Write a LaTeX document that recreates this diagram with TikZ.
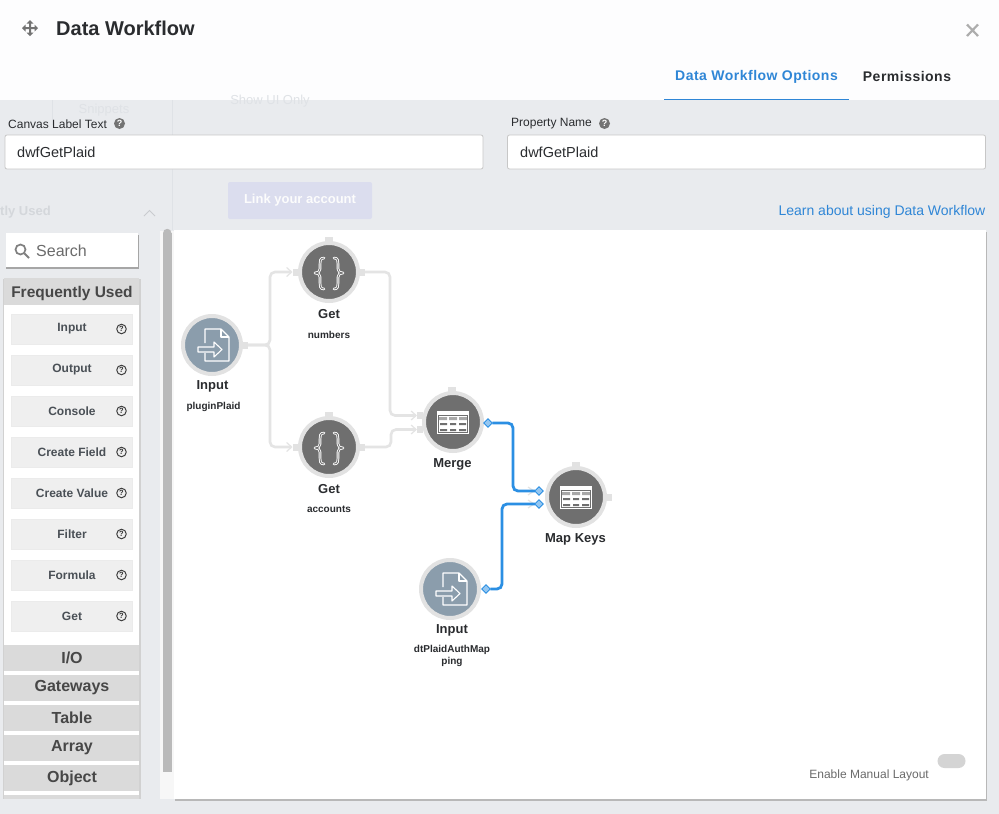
\documentclass[tikz,border=0pt]{standalone}
\usepackage{fontspec}
\setmainfont{Liberation Sans}
\usetikzlibrary{arrows.meta,shapes.geometric,calc}
\definecolor{bgpage}{HTML}{E9EBEE}
\definecolor{headbg}{HTML}{FDFDFE}
\definecolor{bluelink}{HTML}{2F86D6}
\definecolor{wirelight}{HTML}{E4E4E4}
\definecolor{wireblue}{HTML}{2B8FE3}
\definecolor{ringc}{HTML}{E2E2E2}
\definecolor{darknode}{HTML}{6F6F6F}
\definecolor{slatenode}{HTML}{8B9DAC}
\definecolor{inkdark}{HTML}{2A2C2F}
\definecolor{inkgrey}{HTML}{4A5056}
\definecolor{itemfill}{HTML}{EFEFEF}
\definecolor{barfill}{HTML}{DADADA}
\definecolor{faint}{HTML}{DFE2E6}
\newcommand{\fs}[1]{\fontsize{#1}{#1}\selectfont}
\tikzset{
  x=1pt,y=-1pt,
  flowdark/.style={circle,fill=darknode,draw=ringc,line width=4pt,minimum size=58pt,inner sep=0pt,outer sep=0pt},
  flowslate/.style={flowdark,fill=slatenode},
  portbox/.style={rectangle,fill=ringc,minimum width=6pt,minimum height=7pt,inner sep=0pt,outer sep=0pt},
  portdia/.style={diamond,fill=wireblue!50,draw=wireblue,line width=.8pt,minimum width=8.5pt,minimum height=8.5pt,inner sep=0pt,outer sep=0pt},
  wiregrey/.style={draw=wirelight,line width=2.6pt,rounded corners=5pt,-{Straight Barb[length=5pt,width=9pt,line width=1.2pt]}},
  wirebare/.style={draw=wirelight,line width=2.6pt,rounded corners=5pt},
  wireb/.style={draw=wireblue,line width=2.8pt,rounded corners=5pt},
  titlelab/.style={font=\bfseries\fs{13},text=inkdark,inner sep=0pt},
  sublab/.style={font=\bfseries\fs{10},text=inkdark,inner sep=0pt,align=center},
  fieldbox/.style={rectangle,rounded corners=2pt,fill=white,draw=black!22,line width=.8pt,inner sep=0pt,outer sep=0pt},
  fieldtext/.style={font=\fs{14.5},text=inkdark,inner sep=0pt,anchor=west},
  fieldlab/.style={font=\fs{12},text=inkdark,inner sep=0pt,anchor=west},
  helpdot/.style={circle,fill=black!55,minimum size=11pt,inner sep=0pt,text=white,font=\bfseries\fs{9}},
  itembox/.style={rectangle,fill=itemfill,draw=black!8,line width=.5pt,minimum width=121pt,minimum height=30pt,inner sep=0pt},
  itemtext/.style={font=\bfseries\fs{12},text=inkgrey,inner sep=0pt},
  helpq/.style={circle,draw=black!75,line width=1pt,minimum size=9.5pt,inner sep=0pt,text=black!80,font=\bfseries\fs{7.5}},
  barbox/.style={rectangle,fill=barfill,minimum width=135pt,minimum height=26.5pt,inner sep=0pt},
  bartext/.style={font=\bfseries\fs{16},text=black!72,inner sep=0pt},
  docicon/.pic={
    \draw[white,line width=1.1pt,line join=round]
      (-7,-2)--(-7,-16)--(9,-16)--(17,-8)--(17,16)--(-7,16)--(-7,8);
    \draw[white,line width=1.1pt,line join=round] (9,-16)--(9,-8)--(17,-8);
    \draw[white,line width=1.1pt,line join=round]
      (-14,2)--(2,2)--(2,-3)--(10,4.5)--(2,12)--(2,7)--(-14,7)--cycle;
  },
  tableicon/.pic={
    \fill[white] (-16,-11) rectangle (16,12);
    \fill[darknode!60] (-14,-5) rectangle (-6,-2) (-4,-5) rectangle (4,-2) (6,-5) rectangle (14,-2);
    \fill[darknode] (-13,1) rectangle (-6,3) (-3,1) rectangle (3,3) (6,1) rectangle (13,3);
    \fill[darknode] (-13,7) rectangle (-6,9) (-3,7) rectangle (3,9) (6,7) rectangle (13,9);
    \draw[darknode,line width=.5pt] (-14.5,-7) rectangle (14.5,10.5);
  },
  braceicon/.pic={
    \foreach \sx in {1,-1}{
      \begin{scope}[xscale=\sx]
      \draw[white,line width=2.6pt,line cap=round,line join=round]
        (-5,-14) .. controls (-9,-14) and (-9,-11) .. (-9,-8) -- (-9,-3)
        .. controls (-9,0) and (-11,1) .. (-14,1)
        .. controls (-11,1) and (-9,2) .. (-9,5) -- (-9,11)
        .. controls (-9,14) and (-9,17) .. (-5,17);
      \draw[darknode,line width=.8pt,line cap=round,line join=round]
        (-5,-14) .. controls (-9,-14) and (-9,-11) .. (-9,-8) -- (-9,-3)
        .. controls (-9,0) and (-11,1) .. (-14,1)
        .. controls (-11,1) and (-9,2) .. (-9,5) -- (-9,11)
        .. controls (-9,14) and (-9,17) .. (-5,17);
      \end{scope}
    }
  },
}
\begin{document}
\begin{tikzpicture}
\useasboundingbox (0,0) rectangle (999,814);
% page
\fill[bgpage] (0,0) rectangle (999,814);
\fill[headbg] (0,0) rectangle (999,100);
% faint background remains
\draw[faint,line width=.8pt] (52,100)--(52,125) (172,100)--(172,230);
\node[inner sep=0pt,text=faint,font=\fs{13}] (fadesnip) at (104,110) {Snippets};
\node[inner sep=0pt,text=faint,font=\fs{13}] (fadeshow) at (270,101) {Show UI Only};
\node[rectangle,rounded corners=2pt,fill=black!4!blue!6!bgpage,minimum width=144pt,minimum height=37pt,inner sep=0pt,text=white!85!bgpage,font=\bfseries\fs{13}] (fadebtn) at (300,200.5) {Link your account};
\node[inner sep=0pt,text=faint!95!black,font=\bfseries\fs{13},anchor=east] (fadeused) at (51,212) {tly Used};
\draw[faint!90!black,line width=1pt] (144,216)--(149.5,210.5)--(155,216);
% header
\foreach \a in {0,90,180,270}{
  \begin{scope}[shift={(30,28)},rotate=\a]
    \fill[black!55] (-1,0) rectangle (1,-5) (-3.5,-4.5)--(0,-8)--(3.5,-4.5)--cycle;
  \end{scope}
}
\node[inner sep=0pt,anchor=west,font=\bfseries\fs{20},text=inkdark] (title) at (56,28) {Data Workflow};
\draw[black!32,line width=2.2pt] (967,24.5)--(978,36) (978,24.5)--(967,36);
\node[inner sep=0pt,font=\bfseries\fs{14},text=bluelink] (tabopt) at (756.5,76.5) {\addfontfeature{LetterSpace=3.5}Data Workflow Options};
\node[inner sep=0pt,font=\bfseries\fs{14},text=inkdark] (tabperm) at (907,76.5) {\addfontfeature{LetterSpace=3.5}Permissions};
\draw[bluelink,line width=1.6pt] (664,99.5)--(849,99.5);
% fields
\node[fieldlab] (lab1) at (8,124) {Canvas Label Text};
\node[helpdot] (help1) at (119.5,123.5) {?};
\node[fieldbox,minimum width=478pt,minimum height=34pt] (field1) at (244,152) {};
\node[fieldtext] (val1) at (17,152) {dwfGetPlaid};
\node[fieldlab] (lab2) at (511,124) {Property Name};
\node[helpdot] (help2) at (604.5,123.5) {?};
\node[fieldbox,minimum width=478pt,minimum height=34pt] (field2) at (746.5,152) {};
\node[fieldtext] (val2) at (520,152) {dwfGetPlaid};
\node[inner sep=0pt,anchor=east,font=\fs{14},text=bluelink] (learn) at (985.5,212) {Learn about using Data Workflow};
% search
\fill[black!35] (6,235) rectangle (139,268.5);
\node[rectangle,fill=white,minimum width=132pt,minimum height=34pt,inner sep=0pt] (searchbox) at (72,250) {};
\draw[black!50,line width=1.7pt] (20.5,249.5) circle (5);
\draw[black!50,line width=2pt] (24.5,253.5)--(29,258);
\node[inner sep=0pt,anchor=west,font=\fs{16},text=black!58] (searchtxt) at (36,250.5) {Search};
% side panel
\fill[black!18] (3,279) rectangle (140.5,799);
\fill[white] (4,305) rectangle (139,799);
\fill[barfill] (4,278) rectangle (139,305);
\node[bartext,font=\bfseries\fs{15.5}] (frequent) at (72,293) {Frequently Used};
\foreach \nm/\yy/\txt in {a/329/Input,b/370/Output,c/411/Console,d/452/Create Field,e/493/Create Value,f/534/Filter,g/575/Formula,h/616/Get}{
  \node[itembox] (item\nm) at (71.5,\yy) {};
  \node[itemtext] (itxt\nm) at (72,\yy) {\txt};
  \node[helpq] (hq\nm) at (121.5,\yy) {?};
}
\foreach \nm/\yy/\txt in {a/658/I\slash O,b/688/Gateways,c/718/Table,d/748/Array,e/778/Object}{
  \node[barbox] (bar\nm) at (71.5,\yy) {};
  \node[bartext] (btxt\nm) at (72,\yy) {\txt};
}
\fill[barfill] (4,795) rectangle (139,799);
% scrollbar
\fill[black!3] (160,231) rectangle (174,799);
\fill[black!27] (163,233) rectangle (171.5,772);
\fill[black!27] (167.25,233) circle (4.2);
% canvas
\fill[black!28] (175,232) rectangle (987,801);
\fill[white] (174,230) rectangle (985.5,799);
% toggle
\node[inner sep=0pt,anchor=east,font=\fs{12},text=black!58] (manual) at (929,775) {Enable Manual Layout};
\fill[black!17] (944.5,775) ++(0,-7) arc[start angle=90,end angle=270,radius=7] -- ++(14,0) arc[start angle=-90,end angle=90,radius=7] -- cycle;
\fill[white] (945,775) circle (6);
% flow nodes
\node[flowslate] (inplaid) at (212,345) {};
\node[flowdark] (getnum) at (329,272) {};
\node[flowdark] (getacc) at (329,447) {};
\node[flowdark] (merge) at (453,422) {};
\node[flowdark] (mapkeys) at (576,497) {};
\node[flowslate] (inmap) at (450,589) {};
\pic at (inplaid) {docicon};
\pic at (inmap) {docicon};
\pic at (getnum) {braceicon};
\pic at (getacc) {braceicon};
\pic at (merge) {tableicon};
\pic at (mapkeys) {tableicon};
% ports
\node[portbox] (pplaidout) at (245,345) {};
\node[portbox] (pnumin) at (295.5,272) {};
\node[portbox] (pnumout) at (362,272) {};
\node[portbox,minimum width=8pt,minimum height=6pt] (pnumtop) at (329,240) {};
\node[portbox] (paccin) at (295.5,447) {};
\node[portbox] (paccout) at (362,447) {};
\node[portbox,minimum width=8pt,minimum height=6pt] (pacctop) at (329,415) {};
\node[portbox] (pmerin1) at (420,415.5) {};
\node[portbox] (pmerin2) at (420,429.5) {};
\node[portbox,minimum width=8pt,minimum height=6pt] (pmertop) at (452,390) {};
\node[portbox,minimum width=8pt,minimum height=6pt] (pmaptop) at (576,465) {};
\node[portbox] (pmapout) at (608.5,497.5) {};
\coordinate (b1) at (270,345);
\coordinate (b2) at (390,345);
\coordinate (b3) at (391,438);
\coordinate (b4) at (513,423);
\coordinate (b5) at (502,504);
% grey wires
\draw[wiregrey] (pplaidout.east) -- (pplaidout.east -| b1) -- (b1 |- pnumin) -- (pnumin.west);
\draw[wiregrey] (pplaidout.east) -- (pplaidout.east -| b1) -- (b1 |- paccin) -- (paccin.west);
\draw[wiregrey] (pnumout.east) -- (pnumout.east -| b2) -- (b2 |- pmerin1) -- (pmerin1.west);
\draw[wiregrey] (paccout.east) -- (paccout.east -| b3) -- (b3 |- pmerin2) -- (pmerin2.west);
% blue wires
\node[portdia] (dmerge) at (488,423) {};
\node[portdia] (dmap1) at (539,491) {};
\node[portdia] (dmap2) at (539,504) {};
\node[portdia] (dinput) at (486,589) {};
\draw[wirelight,line width=1.2pt] (528,487)--(534,491)--(528,495) (528,500)--(534,504)--(528,508);
\draw[wireb] (dmerge.east) -- (dmerge.east -| b4) -- (b4 |- dmap1) -- (dmap1.west);
\draw[wireb] (dinput.east) -- (dinput.east -| b5) -- (b5 |- dmap2) -- (dmap2.west);
% labels
\node[titlelab] (l1) at (212.5,386.5) {Input};
\node[sublab] (l1s) at (213.5,406.5) {pluginPlaid};
\node[titlelab] (l2) at (329,314.5) {Get};
\node[sublab] (l2s) at (329,334.5) {numbers};
\node[titlelab] (l3) at (329,489.5) {Get};
\node[sublab] (l3s) at (329,509.5) {accounts};
\node[titlelab] (l4) at (452.5,464.5) {Merge};
\node[titlelab] (l5) at (575.5,539.5) {Map Keys};
\node[titlelab] (l6) at (452,630.5) {Input};
\node[sublab,font=\bfseries\fs{10},text width=90pt] (l6s) at (452,656) {dtPlaidAuthMap\\[2pt]ping};
\end{tikzpicture}
\end{document}
